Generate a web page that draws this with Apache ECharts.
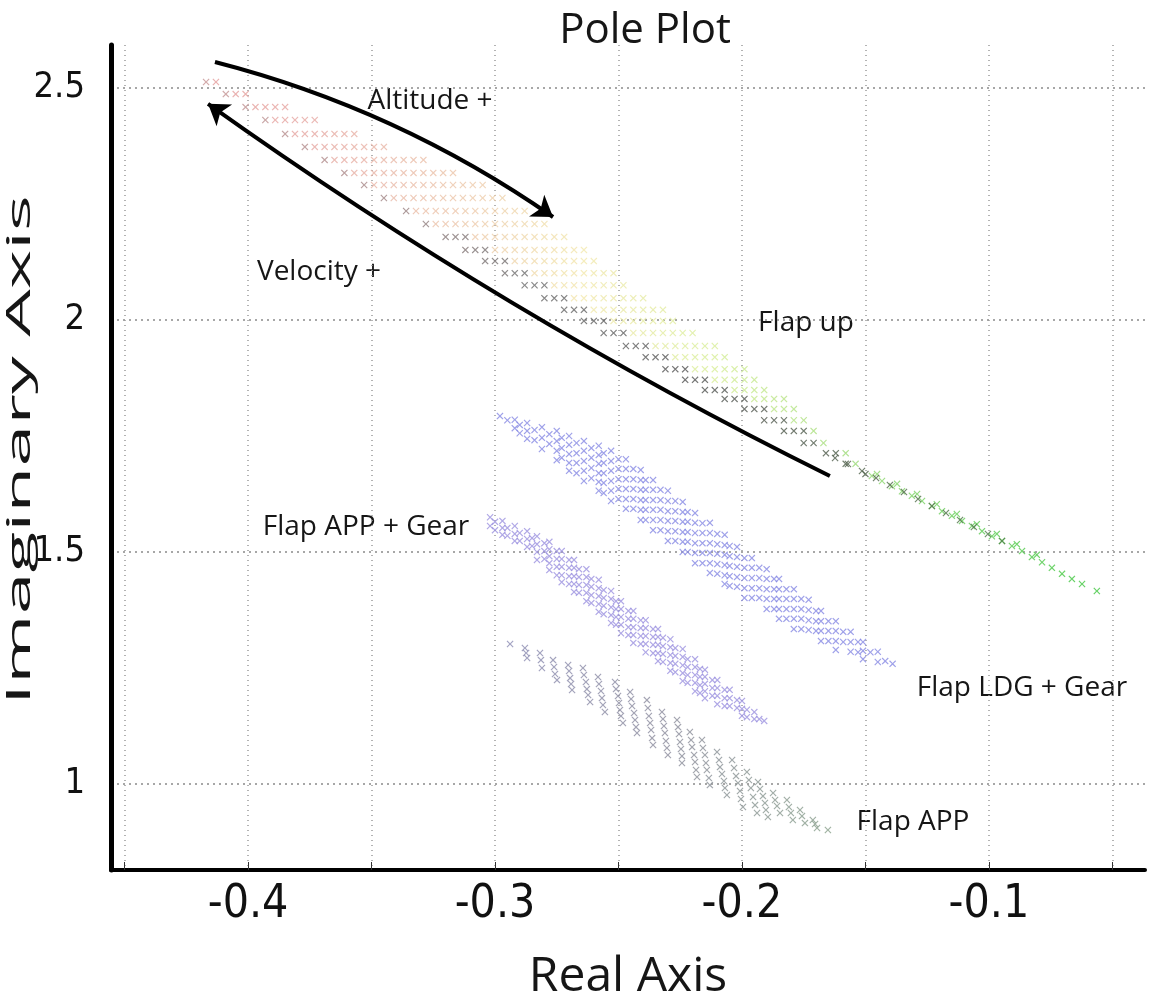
<!DOCTYPE html>
<html>
<head>
<meta charset="utf-8">
<title>Pole Plot</title>
<script src="https://cdn.jsdelivr.net/npm/echarts@6.0.0/dist/echarts.min.js"></script>
<style>
  html, body { margin: 0; padding: 0; background: #fff; }
  #chart { width: 1162px; height: 1003px; }
</style>
</head>
<body>
<div id="chart"></div>
<script>
// axis ticks / labels
const xTickValues = [-0.45, -0.4, -0.35, -0.3, -0.25, -0.2, -0.15, -0.1, -0.05]
const xLabelValues = [-0.4, -0.3, -0.2, -0.1]
const yLabelValues = [1, 1.5, 2, 2.5]

// Flap up band: rows of [imag, [real...]]; darker points on the lower-left edge
const flapUpEdgeRows = [
  [2.513, [-0.417]],
  [2.487, [-0.409]],
  [2.459, [-0.401]],
  [2.431, [-0.393]],
  [2.401, [-0.385]],
  [2.373, [-0.377]],
  [2.345, [-0.369]],
  [2.317, [-0.361]],
  [2.291, [-0.353]],
  [2.263, [-0.345]],
  [2.235, [-0.336]],
  [2.207, [-0.328]],
  [2.179, [-0.320, -0.316, -0.312]],
  [2.151, [-0.312, -0.308, -0.304]],
  [2.127, [-0.304, -0.300, -0.296]],
  [2.101, [-0.296, -0.292, -0.288]],
  [2.075, [-0.288, -0.284, -0.280]],
  [2.047, [-0.280, -0.276, -0.272]],
  [2.022, [-0.272, -0.268, -0.264]],
  [1.998, [-0.264, -0.260, -0.256]],
  [1.972, [-0.256, -0.252, -0.248]],
  [1.944, [-0.247, -0.243, -0.239]],
  [1.920, [-0.239, -0.235, -0.231]],
  [1.894, [-0.231, -0.227, -0.223]],
  [1.871, [-0.223, -0.219, -0.215]],
  [1.849, [-0.215, -0.211, -0.207]],
  [1.830, [-0.207, -0.203, -0.199]],
  [1.808, [-0.199, -0.195, -0.191]],
  [1.784, [-0.191, -0.187, -0.183]],
  [1.761, [-0.183, -0.179, -0.175]],
  [1.735, [-0.175, -0.171]],
  [1.713, [-0.166, -0.162]],
  [1.690, [-0.158]],
  [1.668, [-0.150]]
]

const flapUpRows = [
  [2.513, [-0.413]],
  [2.487, [-0.405, -0.401]],
  [2.459, [-0.397, -0.393, -0.389, -0.385]],
  [2.431, [-0.389, -0.385, -0.381, -0.377, -0.373]],
  [2.401, [-0.381, -0.377, -0.373, -0.369, -0.365, -0.361, -0.357]],
  [2.373, [-0.373, -0.369, -0.365, -0.361, -0.357, -0.353, -0.349, -0.345]],
  [2.345, [-0.365, -0.361, -0.357, -0.353, -0.349, -0.345, -0.341, -0.337, -0.333, -0.329]],
  [2.317, [-0.357, -0.353, -0.349, -0.345, -0.341, -0.337, -0.333, -0.329, -0.325, -0.321, -0.317]],
  [2.291, [-0.349, -0.345, -0.341, -0.337, -0.333, -0.329, -0.325, -0.321, -0.317, -0.313, -0.309, -0.305]],
  [2.263, [-0.341, -0.337, -0.333, -0.329, -0.325, -0.321, -0.317, -0.313, -0.309, -0.305, -0.301, -0.297]],
  [2.235, [-0.332, -0.328, -0.324, -0.320, -0.316, -0.312, -0.308, -0.304, -0.300, -0.296, -0.292, -0.288]],
  [2.207, [-0.324, -0.320, -0.316, -0.312, -0.308, -0.304, -0.300, -0.296, -0.292, -0.288, -0.284, -0.280]],
  [2.179, [-0.308, -0.304, -0.300, -0.296, -0.292, -0.288, -0.284, -0.280, -0.276, -0.272]],
  [2.151, [-0.300, -0.296, -0.292, -0.288, -0.284, -0.280, -0.276, -0.272, -0.268, -0.264]],
  [2.127, [-0.292, -0.288, -0.284, -0.280, -0.276, -0.272, -0.268, -0.264, -0.260]],
  [2.101, [-0.284, -0.280, -0.276, -0.272, -0.268, -0.264, -0.260, -0.256, -0.252]],
  [2.075, [-0.276, -0.272, -0.268, -0.264, -0.260, -0.256, -0.252, -0.248]],
  [2.047, [-0.268, -0.264, -0.260, -0.256, -0.252, -0.248, -0.244, -0.240]],
  [2.022, [-0.260, -0.256, -0.252, -0.248, -0.244, -0.240, -0.236, -0.232]],
  [1.998, [-0.252, -0.248, -0.244, -0.240, -0.236, -0.232, -0.228]],
  [1.972, [-0.244, -0.240, -0.236, -0.232, -0.228, -0.224, -0.220]],
  [1.944, [-0.235, -0.231, -0.227, -0.223, -0.219, -0.215, -0.211]],
  [1.920, [-0.227, -0.223, -0.219, -0.215, -0.211, -0.207]],
  [1.894, [-0.219, -0.215, -0.211, -0.207, -0.203, -0.199]],
  [1.871, [-0.211, -0.207, -0.203, -0.199, -0.195]],
  [1.849, [-0.203, -0.199, -0.195, -0.191]],
  [1.830, [-0.195, -0.191, -0.187, -0.183]],
  [1.808, [-0.187, -0.183, -0.179]],
  [1.784, [-0.179, -0.175]],
  [1.761, [-0.171]],
  [1.735, [-0.167]],
  [1.713, [-0.158]],
  [1.690, [-0.154]]
]

// thin tail of the Flap up band, [real, imag]
const flapUpTail = [
  [-0.1474, 1.664], [-0.1453, 1.668], [-0.1433, 1.653], [-0.1393, 1.642], [-0.1372, 1.647],
  [-0.1352, 1.631], [-0.1312, 1.621], [-0.1291, 1.625], [-0.1271, 1.610], [-0.1231, 1.599],
  [-0.1211, 1.603], [-0.1190, 1.588], [-0.1150, 1.578], [-0.1130, 1.582], [-0.1109, 1.567],
  [-0.1069, 1.556], [-0.1049, 1.560], [-0.1028, 1.545], [-0.0988, 1.534], [-0.0968, 1.539],
  [-0.0947, 1.524], [-0.0907, 1.513], [-0.0887, 1.517], [-0.0866, 1.502], [-0.0826, 1.489],
  [-0.0806, 1.494], [-0.0785, 1.478], [-0.0745, 1.466], [-0.0704, 1.453], [-0.0664, 1.442],
  [-0.0623, 1.431], [-0.0563, 1.416]
]

const flapUpTailDark = [
  [-0.1623, 1.7026], [-0.1571, 1.6897], [-0.1514, 1.6746], [-0.1457, 1.6595], [-0.1401, 1.6444],
  [-0.1344, 1.6293], [-0.1287, 1.6142], [-0.1231, 1.5991], [-0.1174, 1.5841], [-0.1117, 1.5690],
  [-0.1061, 1.5539], [-0.1004, 1.5388], [-0.0947, 1.5237]
]

// Flap LDG + Gear: columns of [real, [imag...]]
const ldgColumns = [
  [-0.298, [1.793]],
  [-0.295, [1.784]],
  [-0.292, [1.785, 1.767]],
  [-0.290, [1.774, 1.756]],
  [-0.287, [1.778, 1.761, 1.744]],
  [-0.284, [1.763, 1.741]],
  [-0.281, [1.769, 1.746, 1.722]],
  [-0.278, [1.754, 1.733]],
  [-0.275, [1.761, 1.739, 1.718, 1.698]],
  [-0.273, [1.746, 1.724, 1.703]],
  [-0.270, [1.750, 1.731, 1.711, 1.692, 1.675]],
  [-0.267, [1.735, 1.713, 1.692, 1.670]],
  [-0.264, [1.739, 1.718, 1.696, 1.675, 1.653]],
  [-0.261, [1.724, 1.703, 1.681, 1.659]],
  [-0.258, [1.729, 1.709, 1.690, 1.670, 1.651, 1.632]],
  [-0.256, [1.713, 1.692, 1.670, 1.649, 1.627]],
  [-0.253, [1.718, 1.696, 1.675, 1.653, 1.632, 1.610]],
  [-0.250, [1.700, 1.679, 1.657, 1.636, 1.614]],
  [-0.247, [1.700, 1.679, 1.657, 1.636, 1.614, 1.593]],
  [-0.244, [1.679, 1.657, 1.636, 1.614, 1.593]],
  [-0.241, [1.677, 1.655, 1.634, 1.612, 1.591, 1.569]],
  [-0.239, [1.655, 1.634, 1.612, 1.591, 1.569]],
  [-0.236, [1.655, 1.634, 1.612, 1.591, 1.569, 1.547]],
  [-0.233, [1.634, 1.612, 1.591, 1.569, 1.547]],
  [-0.230, [1.632, 1.610, 1.588, 1.567, 1.545, 1.524]],
  [-0.227, [1.610, 1.588, 1.567, 1.545, 1.524]],
  [-0.224, [1.608, 1.586, 1.565, 1.543, 1.522, 1.500]],
  [-0.222, [1.586, 1.565, 1.543, 1.522, 1.500]],
  [-0.219, [1.584, 1.563, 1.541, 1.519, 1.498, 1.476]],
  [-0.216, [1.562, 1.541, 1.519, 1.498, 1.476]],
  [-0.213, [1.563, 1.541, 1.519, 1.498, 1.476, 1.455]],
  [-0.210, [1.539, 1.517, 1.496, 1.474, 1.453]],
  [-0.207, [1.537, 1.515, 1.494, 1.472, 1.450, 1.431]],
  [-0.205, [1.513, 1.491, 1.470, 1.448, 1.427]],
  [-0.202, [1.511, 1.489, 1.468, 1.446, 1.425]],
  [-0.199, [1.487, 1.466, 1.444, 1.422, 1.401]],
  [-0.196, [1.487, 1.466, 1.444, 1.422, 1.401]],
  [-0.193, [1.466, 1.444, 1.422, 1.401]],
  [-0.190, [1.463, 1.442, 1.420, 1.399, 1.377]],
  [-0.187, [1.442, 1.420, 1.399, 1.377]],
  [-0.185, [1.442, 1.420, 1.399, 1.377, 1.356]],
  [-0.182, [1.420, 1.399, 1.377, 1.356]],
  [-0.179, [1.420, 1.399, 1.377, 1.356, 1.334]],
  [-0.176, [1.399, 1.377, 1.356, 1.334]],
  [-0.173, [1.397, 1.375, 1.353, 1.332]],
  [-0.170, [1.373, 1.351, 1.330]],
  [-0.168, [1.373, 1.351, 1.330, 1.308]],
  [-0.165, [1.351, 1.330, 1.308]],
  [-0.162, [1.351, 1.330, 1.308, 1.289]],
  [-0.159, [1.328, 1.306]],
  [-0.156, [1.328, 1.306, 1.285]],
  [-0.153, [1.306, 1.284]],
  [-0.151, [1.306, 1.287, 1.269]],
  [-0.148, [1.284]],
  [-0.145, [1.285, 1.263]],
  [-0.142, [1.265]],
  [-0.139, [1.259]]
]

// Flap APP + Gear: columns of [real, [imag...]]
const appGearColumns = [
  [-0.302, [1.575, 1.556]],
  [-0.300, [1.565, 1.547]],
  [-0.297, [1.567, 1.552, 1.537]],
  [-0.295, [1.552, 1.535]],
  [-0.292, [1.556, 1.539, 1.524]],
  [-0.290, [1.541, 1.524]],
  [-0.287, [1.545, 1.528, 1.511]],
  [-0.285, [1.530, 1.513]],
  [-0.283, [1.534, 1.517, 1.500, 1.483]],
  [-0.280, [1.519, 1.502, 1.485]],
  [-0.278, [1.522, 1.506, 1.491, 1.476, 1.461]],
  [-0.275, [1.502, 1.485, 1.468, 1.450]],
  [-0.273, [1.502, 1.485, 1.468, 1.450, 1.435]],
  [-0.270, [1.483, 1.466, 1.448, 1.431]],
  [-0.268, [1.483, 1.466, 1.448, 1.431, 1.414]],
  [-0.266, [1.463, 1.446, 1.429, 1.412]],
  [-0.263, [1.463, 1.446, 1.429, 1.412, 1.394]],
  [-0.261, [1.442, 1.425, 1.407, 1.390]],
  [-0.258, [1.440, 1.422, 1.405, 1.388, 1.371]],
  [-0.256, [1.418, 1.401, 1.384, 1.366]],
  [-0.253, [1.416, 1.399, 1.381, 1.364, 1.347]],
  [-0.251, [1.394, 1.377, 1.360, 1.343]],
  [-0.249, [1.394, 1.377, 1.360, 1.343, 1.325]],
  [-0.246, [1.373, 1.356, 1.338, 1.321]],
  [-0.244, [1.373, 1.356, 1.338, 1.321, 1.304]],
  [-0.241, [1.353, 1.336, 1.319, 1.302]],
  [-0.239, [1.353, 1.336, 1.319, 1.302, 1.284]],
  [-0.236, [1.334, 1.317, 1.300, 1.282]],
  [-0.234, [1.334, 1.317, 1.300, 1.282, 1.265]],
  [-0.232, [1.315, 1.297, 1.280, 1.263]],
  [-0.229, [1.312, 1.295, 1.278, 1.261, 1.244]],
  [-0.227, [1.293, 1.276, 1.259, 1.241]],
  [-0.224, [1.291, 1.274, 1.256, 1.239, 1.222]],
  [-0.222, [1.269, 1.252, 1.235, 1.218]],
  [-0.219, [1.269, 1.252, 1.235, 1.218, 1.200]],
  [-0.217, [1.248, 1.231, 1.213, 1.196]],
  [-0.215, [1.246, 1.231, 1.216, 1.200, 1.185]],
  [-0.212, [1.224, 1.207, 1.190]],
  [-0.210, [1.224, 1.207, 1.190, 1.172]],
  [-0.207, [1.203, 1.185, 1.168]],
  [-0.205, [1.203, 1.185, 1.168]],
  [-0.202, [1.181, 1.164]],
  [-0.200, [1.179, 1.162, 1.147]],
  [-0.198, [1.160, 1.144]],
  [-0.195, [1.155, 1.140]],
  [-0.193, [1.140]],
  [-0.191, [1.136]]
]

// Flap APP: short streaks, [real, imag]
const appPoints = [
  [-0.2939, 1.3017],
  [-0.2879, 1.2931], [-0.2874, 1.2823], [-0.2870, 1.2716],
  [-0.2818, 1.2823], [-0.2814, 1.2672], [-0.2810, 1.2500],
  [-0.2765, 1.2672], [-0.2761, 1.2522], [-0.2757, 1.2371], [-0.2749, 1.2241],
  [-0.2704, 1.2565], [-0.2700, 1.2435], [-0.2696, 1.2284], [-0.2692, 1.2155], [-0.2688, 1.2026],
  [-0.2644, 1.2500], [-0.2640, 1.2349], [-0.2632, 1.2198], [-0.2628, 1.2047], [-0.2623, 1.1918], [-0.2615, 1.1767],
  [-0.2583, 1.2306], [-0.2579, 1.2155], [-0.2571, 1.2004], [-0.2567, 1.1853], [-0.2563, 1.1703], [-0.2555, 1.1552],
  [-0.2514, 1.2198], [-0.2510, 1.2047], [-0.2502, 1.1897], [-0.2498, 1.1746], [-0.2494, 1.1595], [-0.2490, 1.1466], [-0.2482, 1.1315],
  [-0.2453, 1.1983], [-0.2449, 1.1832], [-0.2445, 1.1681], [-0.2437, 1.1530], [-0.2433, 1.1379], [-0.2429, 1.1228], [-0.2425, 1.1099],
  [-0.2385, 1.1810], [-0.2381, 1.1638], [-0.2377, 1.1466], [-0.2372, 1.1315], [-0.2368, 1.1164], [-0.2364, 1.0991], [-0.2360, 1.0841],
  [-0.2324, 1.1552], [-0.2320, 1.1401], [-0.2316, 1.1250], [-0.2312, 1.1099], [-0.2308, 1.0927], [-0.2304, 1.0776], [-0.2300, 1.0625],
  [-0.2263, 1.1379], [-0.2259, 1.1228], [-0.2255, 1.1078], [-0.2251, 1.0905], [-0.2247, 1.0754], [-0.2243, 1.0603], [-0.2243, 1.0453],
  [-0.2211, 1.1121], [-0.2206, 1.0948], [-0.2202, 1.0797], [-0.2194, 1.0625], [-0.2190, 1.0474], [-0.2186, 1.0302], [-0.2182, 1.0151],
  [-0.2162, 1.0948], [-0.2158, 1.0776], [-0.2150, 1.0625], [-0.2146, 1.0453], [-0.2142, 1.0302], [-0.2134, 1.0129], [-0.2130, 0.9978],
  [-0.2101, 1.0690], [-0.2093, 1.0517], [-0.2089, 1.0366], [-0.2081, 1.0216], [-0.2073, 1.0065], [-0.2069, 0.9914], [-0.2061, 0.9763],
  [-0.2040, 1.0517], [-0.2032, 1.0345], [-0.2024, 1.0172], [-0.2016, 1.0022], [-0.2008, 0.9849], [-0.2004, 0.9677], [-0.1996, 0.9504],
  [-0.1980, 1.0259], [-0.1972, 1.0086], [-0.1964, 0.9914], [-0.1955, 0.9720], [-0.1947, 0.9547], [-0.1939, 0.9375],
  [-0.1935, 1.0043], [-0.1927, 0.9892], [-0.1915, 0.9741], [-0.1907, 0.9591], [-0.1903, 0.9440], [-0.1895, 0.9289],
  [-0.1874, 0.9806], [-0.1866, 0.9655], [-0.1858, 0.9526], [-0.1846, 0.9375],
  [-0.1818, 0.9655], [-0.1810, 0.9504], [-0.1802, 0.9375], [-0.1794, 0.9224],
  [-0.1765, 0.9440], [-0.1757, 0.9310], [-0.1745, 0.9159],
  [-0.1713, 0.9224], [-0.1704, 0.9138], [-0.1696, 0.9052],
  [-0.1652, 0.9009]
]

// annotation arrows (start, end) in data coords
const altitudeArrow = [[-0.4134, 2.556], [-0.2765, 2.222]]
const velocityArrow = [[-0.1644, 1.664], [-0.4162, 2.466]]

const xMark = 'path://M0,1.2L1.2,0L5,3.8L8.8,0L10,1.2L6.2,5L10,8.8L8.8,10L5,6.2L1.2,10L0,8.8L3.8,5Z'
const narrowFont = "'Liberation Sans Narrow', 'DejaVu Sans Condensed', sans-serif"
const textFont = "'Open Sans', 'Noto Sans', sans-serif"

const rowsToPoints = rows => rows.flatMap(([y, xs]) => xs.map(x => [x, y]))
const colsToPoints = cols => cols.flatMap(([x, ys]) => ys.map(y => [x, y]))

const scatter = (data, extra) => Object.assign({
  type: 'scatter',
  data: data,
  symbol: xMark,
  symbolSize: 7,
  silent: true,
  z: 3
}, extra)

const label = (text, x, y, size, extra) => Object.assign({
  type: 'text',
  x: x,
  y: y,
  style: {
    text: text,
    font: size + 'px ' + textFont,
    fill: '#161616',
    align: 'center',
    verticalAlign: 'middle',
    textAlign: 'center',
    textVerticalAlign: 'middle'
  }
}, extra)

const chart = echarts.init(document.getElementById('chart'))

const option = {
  animation: false,
  backgroundColor: '#fff',
  grid: { left: 111, right: 17, top: 45, bottom: 133, outerBoundsMode: 'none' },
  xAxis: {
    type: 'value',
    min: -0.4555,
    max: -0.0368,
    axisLine: { onZero: false, lineStyle: { color: '#000', width: 4 } },
    axisTick: { customValues: xTickValues, inside: true, length: 8, lineStyle: { color: '#333' } },
    axisLabel: {
      customValues: xLabelValues,
      formatter: v => v.toFixed(1),
      fontSize: 46,
      fontFamily: narrowFont,
      color: '#111',
      margin: 12
    },
    splitLine: { show: true, lineStyle: { color: '#9a9a9a', type: [1, 4], width: 1.5 } }
  },
  yAxis: {
    type: 'value',
    min: 0.8147,
    max: 2.5927,
    axisLine: { onZero: false, lineStyle: { color: '#000', width: 5 } },
    axisTick: { show: false, customValues: yLabelValues },
    axisLabel: {
      customValues: yLabelValues,
      formatter: v => String(v),
      fontSize: 36,
      fontFamily: narrowFont,
      color: '#111',
      margin: 26
    },
    splitLine: { show: true, lineStyle: { color: '#8a8a8a', type: [2, 4], width: 1.5 } }
  },
  visualMap: [
    {
      type: 'continuous', show: false, seriesIndex: [0, 1], dimension: 0,
      min: -0.42, max: -0.056,
      inRange: { color: ['#e59a9a', '#e6aaa4', '#ecc6aa', '#f2e8ae', '#d9ee9a', '#9fdc78', '#60cc55', '#3ec63e'] }
    },
    {
      type: 'continuous', show: false, seriesIndex: [2, 3], dimension: 0,
      min: -0.42, max: -0.09,
      inRange: { color: ['#c99696', '#a88888', '#6e6e6e', '#545454', '#4f5f4a', '#4f8048'] }
    },
    {
      type: 'continuous', show: false, seriesIndex: 6, dimension: 0,
      min: -0.295, max: -0.165,
      inRange: { color: ['#8c8cb4', '#8c8c9c', '#8aa08c'] }
    }
  ],
  series: [
    scatter(rowsToPoints(flapUpRows)),
    scatter(flapUpTail),
    scatter(rowsToPoints(flapUpEdgeRows), { z: 4 }),
    scatter(flapUpTailDark, { z: 4 }),
    scatter(colsToPoints(ldgColumns), { itemStyle: { color: '#878ae4' } }),
    scatter(colsToPoints(appGearColumns), { itemStyle: { color: '#9c92e0' } }),
    scatter(appPoints),
    {
      type: 'lines',
      coordinateSystem: 'cartesian2d',
      silent: true,
      symbol: ['none', 'arrow'],
      symbolSize: 20,
      lineStyle: { color: '#000', width: 4, opacity: 1, curveness: 0.09 },
      data: [{ coords: altitudeArrow }],
      z: 6
    },
    {
      type: 'lines',
      coordinateSystem: 'cartesian2d',
      silent: true,
      symbol: ['none', 'arrow'],
      symbolSize: 20,
      lineStyle: { color: '#000', width: 4, opacity: 1, curveness: 0.04 },
      data: [{ coords: velocityArrow }],
      z: 6
    }
  ],
  graphic: [
    label('Pole Plot', 645, 31, 42),
    label('Real Axis', 628, 977, 48),
    label('Imaginary Axis', 21, 450, 32, { rotation: Math.PI / 2, scaleX: 2.35 }),
    label('Altitude +', 430, 101, 28),
    label('Velocity +', 319, 272, 28),
    label('Flap up', 806, 323, 28),
    label('Flap APP + Gear', 366, 527, 28),
    label('Flap LDG + Gear', 1022, 688, 28),
    label('Flap APP', 913, 822, 28)
  ]
}

chart.setOption(option)
</script>
</body>
</html>
